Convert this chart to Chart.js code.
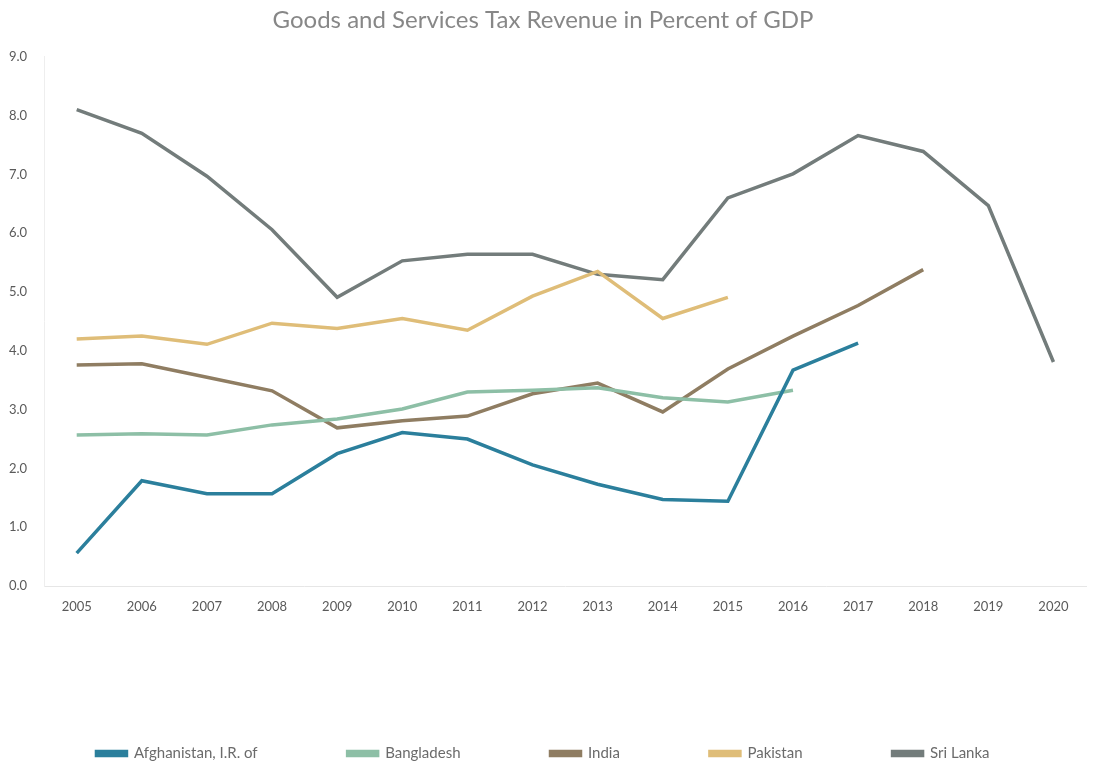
<!DOCTYPE html>
<html>
<head>
<meta charset="utf-8">
<script src="https://cdn.jsdelivr.net/npm/chart.js@4/dist/chart.umd.min.js"></script>
<style>
  html, body { margin: 0; padding: 0; background: #fff; }
  #wrap { width: 1093px; height: 764px; position: relative; }
</style>
</head>
<body>
<div id="wrap"><canvas id="gstChart"></canvas></div>
<script>
// 年（横軸）
const years = ['2005', '2006', '2007', '2008', '2009', '2010', '2011', '2012',
               '2013', '2014', '2015', '2016', '2017', '2018', '2019', '2020'];

// 国ごとの GST 収入（GDP 比, %）— データが無い年は null
const afghanistan = [0.56, 1.79, 1.57, 1.57, 2.25, 2.61, 2.50, 2.06, 1.73, 1.47, 1.44, 3.67, 4.13, null, null, null];
const bangladesh  = [2.57, 2.59, 2.57, 2.74, 2.84, 3.01, 3.30, 3.33, 3.37, 3.20, 3.13, 3.33, null, null, null, null];
const india       = [3.76, 3.78, 3.55, 3.32, 2.69, 2.81, 2.89, 3.27, 3.45, 2.96, 3.69, 4.25, 4.77, 5.38, null, null];
const pakistan    = [4.20, 4.25, 4.11, 4.47, 4.38, 4.55, 4.35, 4.93, 5.35, 4.55, 4.91, null, null, null, null, null];
const sriLanka    = [8.10, 7.70, 6.97, 6.06, 4.91, 5.53, 5.64, 5.64, 5.30, 5.21, 6.60, 7.01, 7.66, 7.39, 6.47, 3.81];

const seriesNames = ['Afghanistan, I.R. of', 'Bangladesh', 'India', 'Pakistan', 'Sri Lanka'];
const seriesData = [afghanistan, bangladesh, india, pakistan, sriLanka];
const seriesColors = ['#2b7f9c', '#8dbfa6', '#8f7d62', '#dfbd78', '#737c7b'];

const FONT = 'Lato, "Open Sans", sans-serif';

const datasets = seriesNames.map((name, i) => ({
    label: name,
    data: seriesData[i],
    borderColor: seriesColors[i],
    backgroundColor: seriesColors[i],
    borderWidth: 3.5,
    pointRadius: 0,
    pointHoverRadius: 0,
    tension: 0,
    spanGaps: false
}));

new Chart(document.getElementById('gstChart'), {
    type: 'line',
    data: { labels: years, datasets: datasets },
    options: {
        responsive: true,
        maintainAspectRatio: false,
        animation: false,
        layout: { padding: { left: 0, right: 7, top: 6, bottom: -7 } },
        plugins: {
            title: {
                display: true,
                text: 'Goods and Services Tax Revenue in Percent of GDP',
                color: '#878787',
                font: { family: FONT, size: 24, weight: 'normal' },
                padding: { top: 0, bottom: 22 }
            },
            legend: {
                position: 'bottom',
                // 凡例の上に少し余白を足すための空タイトル
                title: { display: true, text: '', font: { size: 12 }, padding: 11 },
                labels: {
                    boxWidth: 30,
                    boxHeight: 4,
                    padding: 90,
                    color: '#6b6b6b',
                    font: { family: FONT, size: 15 }
                }
            },
            tooltip: { enabled: false }
        },
        scales: {
            x: {
                offset: true,
                grid: { display: false },
                border: { display: true, color: '#e6e6e6' },
                ticks: { color: '#5a5a5a', font: { family: FONT, size: 13 }, padding: 5 }
            },
            y: {
                min: 0,
                max: 9,
                grid: { display: false },
                border: { display: true, color: '#eeeeee' },
                ticks: {
                    stepSize: 1,
                    color: '#5a5a5a',
                    padding: 9,
                    font: { family: FONT, size: 13 },
                    callback: (v) => Number(v).toFixed(1)
                }
            }
        }
    }
});
</script>
</body>
</html>
